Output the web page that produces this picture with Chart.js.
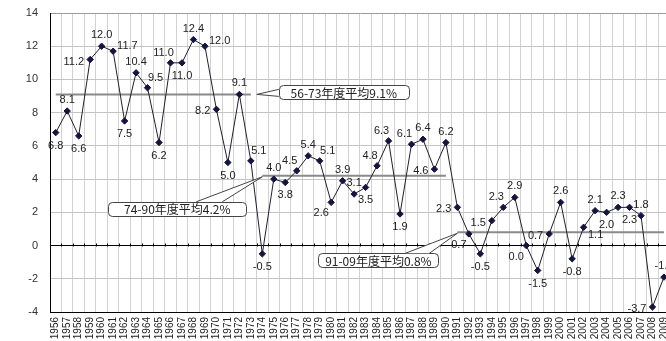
<!DOCTYPE html>
<html lang="ja">
<head>
<meta charset="utf-8">
<title>実質経済成長率の推移</title>
<script src="https://cdn.jsdelivr.net/npm/chart.js@4/dist/chart.umd.min.js"></script>
<style>
  html, body { margin: 0; padding: 0; background: #fff; overflow: hidden; }
  #wrap { position: relative; width: 681px; height: 341px; }
</style>
</head>
<body>
<div id="wrap"><canvas id="growthChart"></canvas></div>
<script>
/* =========================
   データ
========================= */
const years = [
  "1956", "1957", "1958", "1959", "1960", "1961", "1962", "1963", "1964", "1965",
  "1966", "1967", "1968", "1969", "1970", "1971", "1972", "1973", "1974", "1975",
  "1976", "1977", "1978", "1979", "1980", "1981", "1982", "1983", "1984", "1985",
  "1986", "1987", "1988", "1989", "1990", "1991", "1992", "1993", "1994", "1995",
  "1996", "1997", "1998", "1999", "2000", "2001", "2002", "2003", "2004", "2005",
  "2006", "2007", "2008", "2009"
];

// 実質GDP成長率（年度, %）
const growth = [
  6.8, 8.1, 6.6, 11.2, 12.0, 11.7, 7.5, 10.4, 9.5, 6.2,
  11.0, 11.0, 12.4, 12.0, 8.2, 5.0, 9.1, 5.1, -0.5, 4.0,
  3.8, 4.5, 5.4, 5.1, 2.6, 3.9, 3.1, 3.5, 4.8, 6.3,
  1.9, 6.1, 6.4, 4.6, 6.2, 2.3, 0.7, -0.5, 1.5, 2.3,
  2.9, 0.0, -1.5, 0.7, 2.6, -0.8, 1.1, 2.1, 2.0, 2.3,
  2.3, 1.8, -3.7, -1.9
];

// 期間平均
const periodFrom = ["1956", "1974", "1991"];
const periodTo   = ["1973", "1990", "2009"];
const periodAvg  = [9.1, 4.2, 0.8];
const periodText = ["56-73年度平均9.1%", "74-90年度平均4.2%", "91-09年度平均0.8%"];

const yTicks = [-4, -2, 0, 2, 4, 6, 8, 10, 12, 14];

// ラベルの位置（a:上 b:下 l:左 r:右 など）
const labelPos = [
  "b", "a", "b", "l", "a", "r", "b", "a", "ar", "b",
  "al", "b", "a", "r", "l", "b", "a", "ar", "b", "a",
  "b", "al", "a", "ar", "bl", "a", "a", "b", "al", "al",
  "b", "al", "a", "l", "a", "l", "bl", "b", "l", "al",
  "a", "bl", "b", "l", "a", "b", "br", "a", "b", "a",
  "b", "a", "l", "a"
];

/* =========================
   設定
========================= */
const FONT = "'Liberation Sans', 'Noto Sans CJK JP', sans-serif";
const CJK_FONT = "'Noto Sans CJK JP', 'Liberation Sans', sans-serif";
const TEXT = "#222";

const OFFSETS = {
  a:  { dx: 0,  dy: -11, align: "center" },
  b:  { dx: 0,  dy: 13,  align: "center" },
  l:  { dx: -6, dy: 2,   align: "right" },
  r:  { dx: 4,  dy: -5,  align: "left" },
  al: { dx: -7, dy: -10, align: "center" },
  ar: { dx: 8,  dy: -10, align: "center" },
  bl: { dx: -10, dy: 11, align: "center" },
  br: { dx: 12, dy: 8,   align: "center" }
};

const avgSets = periodAvg.map((avg, k) => {
  const i0 = years.indexOf(periodFrom[k]);
  const i1 = years.indexOf(periodTo[k]);
  return {
    label: periodText[k],
    data: years.map((_, i) => (i >= i0 && i <= i1 ? avg : null)),
    borderColor: "#8a8a8a",
    borderWidth: 2,
    pointRadius: 0,
    spanGaps: false,
    order: 2
  };
});

// ゼロ線上の目盛り
const zeroTicks = {
  id: "zeroTicks",
  beforeDatasetsDraw(chart) {
    const { ctx, scales: { x, y } } = chart;
    const y0 = Math.round(y.getPixelForValue(0)) + 0.5;
    const n = years.length;
    ctx.save();
    ctx.strokeStyle = "#000";
    ctx.lineWidth = 1;
    ctx.beginPath();
    for (let i = 0; i <= n; i++) {
      const px = Math.round(x.left + i * x.width / n) + 0.5;
      ctx.moveTo(px, y0);
      ctx.lineTo(px, y0 - 3);
    }
    ctx.stroke();
    ctx.restore();
  }
};

// 値ラベル
const valueLabels = {
  id: "valueLabels",
  afterDatasetsDraw(chart) {
    const { ctx } = chart;
    const meta = chart.getDatasetMeta(0);
    ctx.save();
    ctx.font = `11px ${FONT}`;
    ctx.fillStyle = TEXT;
    ctx.textBaseline = "middle";
    meta.data.forEach((pt, i) => {
      const o = OFFSETS[labelPos[i]] || OFFSETS.a;
      ctx.textAlign = o.align;
      ctx.fillText(growth[i].toFixed(1), pt.x + o.dx, pt.y + o.dy);
    });
    ctx.restore();
  }
};

// 吹き出し（平均値の注記）
const callouts = {
  id: "callouts",
  afterDraw(chart) {
    const { ctx, scales: { x, y } } = chart;
    const boxes = [
      // 56-73: 線の右端から右へ
      { k: 0, ax: x.getPixelForValue(years.indexOf(periodTo[0])), ay: y.getPixelForValue(periodAvg[0]),
        bx: 28, by: -9, w: 130, h: 14, tip: [6, 0], base: [[28, -5], [28, 2]] },
      // 74-90: 線の左端から左下へ
      { k: 1, ax: x.getPixelForValue(years.indexOf(periodFrom[1])), ay: y.getPixelForValue(periodAvg[1]),
        bx: -154, by: 26, w: 138, h: 14, tip: [0, 1], base: [[-66, 26], [-40, 26]] },
      // 91-09: 線の左端から左下へ
      { k: 2, ax: x.getPixelForValue(years.indexOf(periodFrom[2])), ay: y.getPixelForValue(periodAvg[2]),
        bx: -139, by: 21, w: 120, h: 14, tip: [0, 1], base: [[-52, 21], [-28, 21]] }
    ];
    ctx.save();
    boxes.forEach(b => {
      const left = b.ax + b.bx, top = b.ay + b.by;
      ctx.beginPath();
      ctx.roundRect(Math.round(left) + 0.5, Math.round(top) + 0.5, b.w, b.h, 4);
      ctx.fillStyle = "#fff";
      ctx.fill();
      ctx.strokeStyle = "#444";
      ctx.lineWidth = 1;
      ctx.stroke();

      // しっぽ
      ctx.beginPath();
      ctx.moveTo(b.ax + b.base[0][0], b.ay + b.base[0][1]);
      ctx.lineTo(b.ax + b.tip[0], b.ay + b.tip[1]);
      ctx.lineTo(b.ax + b.base[1][0], b.ay + b.base[1][1]);
      ctx.closePath();
      ctx.fillStyle = "#fff";
      ctx.fill();
      ctx.beginPath();
      ctx.moveTo(b.ax + b.base[0][0], b.ay + b.base[0][1]);
      ctx.lineTo(b.ax + b.tip[0], b.ay + b.tip[1]);
      ctx.lineTo(b.ax + b.base[1][0], b.ay + b.base[1][1]);
      ctx.stroke();

      ctx.font = `12px ${CJK_FONT}`;
      ctx.fillStyle = TEXT;
      ctx.textAlign = "center";
      ctx.textBaseline = "middle";
      ctx.fillText(periodText[b.k], left + b.w / 2, top + b.h / 2 + 1);
    });
    ctx.restore();
  }
};

/* =========================
   グラフ
========================= */
new Chart(document.getElementById("growthChart"), {
  type: "line",
  data: {
    labels: years,
    datasets: [
      {
        label: "実質GDP成長率",
        data: growth,
        borderColor: "#1f1f2e",
        borderWidth: 1,
        pointStyle: "rectRot",
        pointRadius: 3.2,
        pointBackgroundColor: "#14143c",
        pointBorderColor: "#14143c",
        pointBorderWidth: 1,
        tension: 0,
        order: 1
      },
      ...avgSets
    ]
  },
  options: {
    responsive: true,
    maintainAspectRatio: false,
    animation: false,
    events: [],
    layout: { padding: { top: 0, right: 2, left: 0, bottom: 0 } },
    plugins: {
      legend: { display: false },
      tooltip: { enabled: false }
    },
    scales: {
      x: {
        offset: true,
        grid: { offset: true, color: "#d2d2d2", drawTicks: false },
        border: { color: "#000" },
        ticks: {
          autoSkip: false,
          minRotation: 90,
          maxRotation: 90,
          padding: 5,
          color: TEXT,
          font: { family: FONT, size: 10 }
        },
        afterFit: (s) => { s.height = 29; }
      },
      y: {
        min: -4,
        max: 14,
        afterBuildTicks: (s) => { s.ticks = yTicks.map(v => ({ value: v })); },
        grid: {
          drawTicks: false,
          color: (c) => {
            const v = c.tick && c.tick.value;
            if (v === 0 || v === -4) return "#000";
            if (v === 14) return "#9a9a9a";
            return "#c4c4c4";
          }
        },
        border: { color: "#000" },
        ticks: {
          padding: 12,
          color: "#333",
          font: { family: FONT, size: 11 }
        },
        // 目盛りラベル分の余白を詰めて、上端を揃える
        afterFit: (s) => { s.width = 50; s.paddingTop = 13; s.paddingBottom = 0; }
      }
    }
  },
  plugins: [zeroTicks, valueLabels, callouts]
});
</script>
</body>
</html>
